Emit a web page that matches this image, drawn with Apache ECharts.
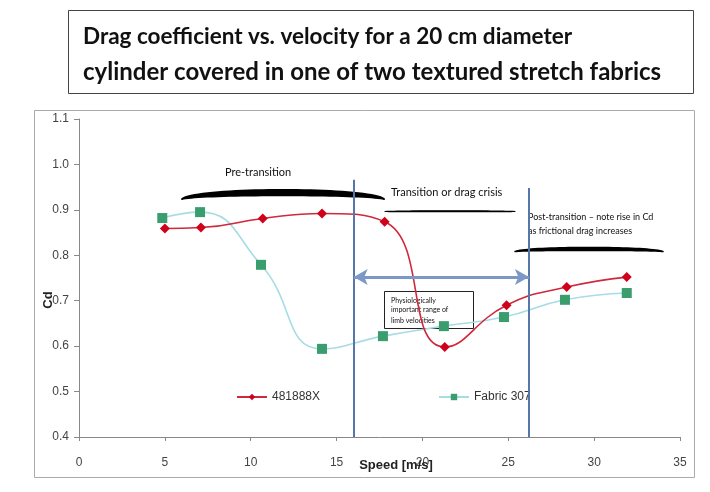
<!DOCTYPE html>
<html>
<head>
<meta charset="utf-8">
<script src="https://cdn.jsdelivr.net/npm/echarts@6/dist/echarts.min.js"></script>
<style>
html,body{margin:0;padding:0;background:#fff;}
#c{width:710px;height:492px;}
</style>
</head>
<body>
<div id="c"></div>
<script>
// ---- data ----
const seriesNames = ['481888X', 'Fabric 307'];
const speedA = [5.0, 7.1, 10.7, 14.15, 17.8, 21.3, 24.9, 28.4, 31.9];
const cdA    = [0.859, 0.861, 0.881, 0.892, 0.874, 0.598, 0.690, 0.730, 0.752];
const speedB = [4.85, 7.05, 10.6, 14.15, 17.7, 21.25, 24.75, 28.3, 31.9];
const cdB    = [0.882, 0.895, 0.779, 0.594, 0.622, 0.644, 0.664, 0.702, 0.717];
const transitionBounds = [16.0, 26.2];       // vertical lines (m/s)
const transitionTops = [0.966, 0.948];
const arrowLevel = 0.752;
const titleLines = ['Drag coefficient vs. velocity for a 20 cm diameter',
                    'cylinder covered in one of two textured stretch fabrics'];
const xTicks = {min: 0, max: 35, interval: 5};
const yTicks = {min: 0.4, max: 1.1, interval: 0.1};

const pairs = (xs, ys) => xs.map((x, i) => [x, ys[i]]);

// brush-stroke brace (annotation decoration): cubic top & bottom edges
function brace(x0, x1, yEnd, yTop, yBot, k) {
  const n = 40, pts = [];
  const c = (a, b, cc, d, t) => (1-t)*(1-t)*(1-t)*a + 3*(1-t)*(1-t)*t*b + 3*(1-t)*t*t*cc + t*t*t*d;
  const dx = (x1 - x0) * k;
  for (let i = 0; i <= n; i++) { const t = i / n; pts.push([c(x0, x0 + dx, x1 - dx, x1, t), c(yEnd, yTop, yTop, yEnd, t)]); }
  for (let i = n; i >= 0; i--) { const t = i / n; pts.push([c(x0, x0 + dx, x1 - dx, x1, t), c(yEnd, yBot, yBot, yEnd, t)]); }
  return pts;
}

const chart = echarts.init(document.getElementById('c'), null, {renderer: 'canvas'});
const axisFont = {fontFamily: 'Liberation Sans, Arial, sans-serif', fontSize: 12, color: '#444'};
const noteFont = 'Lato, sans-serif';

chart.setOption({
  animation: false,
  backgroundColor: '#fff',
  grid: {left: 79, right: 30, top: 119, bottom: 55},
  xAxis: {
    type: 'value', min: xTicks.min, max: xTicks.max, interval: xTicks.interval,
    splitLine: {show: false},
    axisLine: {show: true, onZero: false, lineStyle: {color: '#888', width: 1}},
    axisTick: {show: true, length: 4, lineStyle: {color: '#888'}},
    axisLabel: Object.assign({margin: 20}, axisFont)
  },
  yAxis: {
    type: 'value', min: yTicks.min, max: yTicks.max, interval: yTicks.interval,
    splitLine: {show: false},
    axisLine: {show: true, onZero: false, lineStyle: {color: '#888', width: 1}},
    axisTick: {show: true, length: 5, lineStyle: {color: '#888'}},
    axisLabel: Object.assign({margin: 10, formatter: v => v.toFixed(1)}, axisFont)
  },
  legend: [
    {data: [seriesNames[0]], left: 231, top: 386, itemWidth: 30, itemHeight: 8, itemGap: 2,
     textStyle: {fontFamily: 'Liberation Sans, Arial', fontSize: 12, color: '#333'}},
    {data: [seriesNames[1]], left: 433, top: 386, itemWidth: 30, itemHeight: 8, itemGap: 2,
     textStyle: {fontFamily: 'Liberation Sans, Arial', fontSize: 12, color: '#333'}}
  ],
  series: [
    {
      name: seriesNames[0], type: 'line', smooth: 0.5,
      data: pairs(speedA, cdA),
      symbol: 'diamond', symbolSize: 10,
      lineStyle: {color: '#d0283c', width: 1.6},
      itemStyle: {color: '#d0021b'},
      z: 4,
      markLine: {
        silent: true, symbol: 'none', label: {show: false},
        lineStyle: {color: '#5577aa', width: 2, type: 'solid'},
        data: transitionBounds.map((b, i) => [{coord: [b, yTicks.min]}, {coord: [b, transitionTops[i]]}])
      }
    },
    {
      name: seriesNames[1], type: 'line', smooth: 0.5,
      data: pairs(speedB, cdB),
      symbol: 'rect', symbolSize: 10,
      lineStyle: {color: '#a6dde4', width: 1.6},
      itemStyle: {color: '#3a9d6e'},
      z: 3,
      markLine: {
        silent: true, symbol: ['arrow', 'arrow'], symbolSize: [12, 14], label: {show: false},
        lineStyle: {color: '#7b98c6', width: 3, type: 'solid'},
        data: [[{coord: [transitionBounds[0], arrowLevel]}, {coord: [transitionBounds[1], arrowLevel]}]]
      }
    }
  ],
  graphic: [
    // outer chart frame
    {type: 'rect', shape: {x: 34.5, y: 110.5, width: 660, height: 367}, style: {fill: 'none', stroke: '#aaa', lineWidth: 1}, z: -1},
    // title box
    {type: 'rect', shape: {x: 68.5, y: 10.5, width: 625, height: 83}, style: {fill: '#fff', stroke: '#444', lineWidth: 1}},
    {type: 'text', x: 83, y: 37, style: {text: titleLines[0], font: 'bold 22.5px ' + noteFont, fill: '#111', verticalAlign: 'middle'}},
    {type: 'text', x: 83, y: 72, style: {text: titleLines[1], font: 'bold 24px ' + noteFont, fill: '#111', verticalAlign: 'middle'}},
    // axis names
    {type: 'text', x: 48, y: 300, rotation: Math.PI / 2, style: {text: 'Cd', font: 'bold 13px Liberation Sans, Arial', fill: '#222', align: 'center', verticalAlign: 'middle'}, z: 10},
    {type: 'text', x: 396, y: 465, style: {text: 'Speed [m/s]', font: 'bold 13px Liberation Sans, Arial', fill: '#222', align: 'center', verticalAlign: 'middle'}, z: 10},
    // Pre-transition brace
    {type: 'text', x: 258, y: 172, style: {text: 'Pre-transition', font: '11px ' + noteFont, fill: '#111', align: 'center', verticalAlign: 'middle'}},
    {type: 'polygon', shape: {points: brace(182, 384, 199, 187, 194, 0.08)}, style: {fill: '#000', stroke: '#000', lineWidth: 2, lineJoin: 'round'}},
    // Transition text and line
    {type: 'text', x: 391, y: 192, style: {text: 'Transition or drag crisis', font: '11px ' + noteFont, fill: '#111', align: 'left', verticalAlign: 'middle'}},
    {type: 'polygon', shape: {points: brace(385, 515, 211.5, 210.5, 211.8, 0.2)}, style: {fill: '#000', stroke: '#000', lineWidth: 1.2, lineJoin: 'round'}},
    // Post-transition text and brace
    {type: 'text', x: 528, y: 217, style: {text: 'Post-transition \u2013 note rise in Cd', font: '9px ' + noteFont, fill: '#111', align: 'left', verticalAlign: 'middle'}},
    {type: 'text', x: 528, y: 231, style: {text: 'as frictional drag increases', font: '9px ' + noteFont, fill: '#111', align: 'left', verticalAlign: 'middle'}},
    {type: 'polygon', shape: {points: brace(515, 663, 251.5, 246, 250, 0.1)}, style: {fill: '#000', stroke: '#000', lineWidth: 1.5, lineJoin: 'round'}},
    // Physiological range box
    {type: 'rect', shape: {x: 384.5, y: 291.5, width: 89, height: 37}, style: {fill: 'rgba(255,255,255,0)', stroke: '#222', lineWidth: 1}, z: 2},
    {type: 'text', x: 391, y: 301, style: {text: 'Physiologically', font: '7px ' + noteFont, fill: '#111', verticalAlign: 'middle'}, z: 2},
    {type: 'text', x: 391, y: 310, style: {text: 'important range of', font: '7px ' + noteFont, fill: '#111', verticalAlign: 'middle'}, z: 2},
    {type: 'text', x: 391, y: 321, style: {text: 'limb velocities', font: '7px ' + noteFont, fill: '#111', verticalAlign: 'middle'}, z: 2}
  ]
});
</script>
</body>
</html>
